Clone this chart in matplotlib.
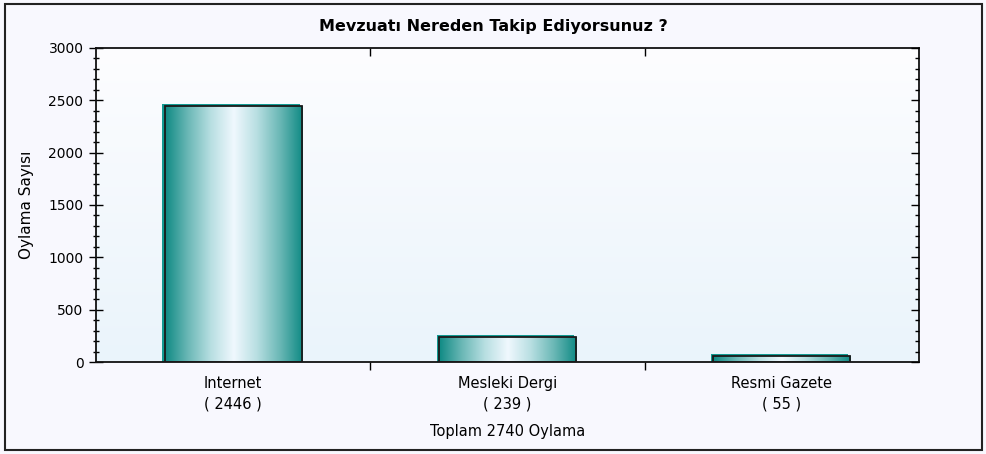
import numpy as np
import matplotlib
matplotlib.use('Agg')
import matplotlib.pyplot as plt
from matplotlib.colors import LinearSegmentedColormap
from matplotlib.patches import Rectangle
from matplotlib.ticker import MultipleLocator

categories = ['Internet', 'Mesleki Dergi', 'Resmi Gazete']
votes = [2446, 239, 55]
title = 'Mevzuatı Nereden Takip Ediyorsunuz ?'
ylabel = 'Oylama Sayısı'
xlabel = 'Toplam 2740 Oylama'

fig = plt.figure(figsize=(9.87, 4.54), dpi=100, facecolor='#f8f8fe')
ax = fig.add_axes([96 / 987, 92 / 454, 823 / 987, 314 / 454])

# figure border
fig.patches.append(Rectangle((5 / 987, 4 / 454), 977 / 987, 446 / 454,
                             transform=fig.transFigure, fill=False,
                             edgecolor='#222222', linewidth=1.5))

ax.set_xlim(-0.5, len(categories) - 0.5)
ax.set_ylim(0, 3000)

# plot area gradient: white at top, light blue at bottom
bg = LinearSegmentedColormap.from_list('bg', ['#eaf4fb', '#fdfdff'])
ax.imshow(np.linspace(0, 1, 256).reshape(-1, 1), cmap=bg, aspect='auto',
          extent=[-0.5, len(categories) - 0.5, 0, 3000], origin='lower', zorder=0)

bar_cmap = LinearSegmentedColormap.from_list(
    'bar', ['#0f8a84', '#6bb8b6', '#b8dfe2', '#f0f8fe', '#b8dfe2', '#6bb8b6', '#0f8a84'])
grad = np.linspace(0, 1, 256).reshape(1, -1)

bars = ax.bar(range(len(categories)), votes, width=0.5, facecolor='none',
              edgecolor='#1a1a1a', linewidth=1.3, zorder=3)
for b in bars:
    x0, w, h = b.get_x(), b.get_width(), b.get_height()
    # teal offset edge for the 3d look
    ax.add_patch(Rectangle((x0 - 0.008, 0), w, h + 18, facecolor='#129a92',
                           edgecolor='none', zorder=1))
    im = ax.imshow(grad, cmap=bar_cmap, aspect='auto',
                   extent=[x0, x0 + w, 0, h], zorder=2)
    im.set_clip_path(Rectangle((x0, 0), w, h, transform=ax.transData))

for s in ax.spines.values():
    s.set_linewidth(1.3)
    s.set_color('#111111')

ax.yaxis.set_major_locator(MultipleLocator(500))
ax.yaxis.set_minor_locator(MultipleLocator(100))
ax.tick_params(axis='y', which='major', direction='inout', length=10, width=1,
               labelsize=10, pad=4)
ax.tick_params(axis='y', which='minor', direction='inout', length=5, width=1)

# right side ticks point inward only
ax_r = ax.twinx()
ax_r.set_ylim(0, 3000)
ax_r.yaxis.set_major_locator(MultipleLocator(500))
ax_r.yaxis.set_minor_locator(MultipleLocator(100))
ax_r.tick_params(axis='y', which='major', direction='in', length=6, width=1, labelright=False)
ax_r.tick_params(axis='y', which='minor', direction='in', length=3, width=1)
for s in ax_r.spines.values():
    s.set_visible(False)

ax.set_xticks([0.5, 1.5])
ax.set_xticklabels(['', ''])
ax.tick_params(axis='x', which='major', direction='out', length=6, width=1, top=True)
for t in ax.xaxis.get_major_ticks():
    t.tick2line.set_marker(3)  # inward on top
    t.tick2line.set_markersize(6)

for i, (c, v) in enumerate(zip(categories, votes)):
    ax.text(i, -130, c + '\n( ' + str(v) + ' )', ha='center', va='top',
            fontsize=10.5, linespacing=1.45)

ax.text(1, -590, xlabel, ha='center', va='top', fontsize=10.5)
ax.set_ylabel(ylabel, fontsize=11, labelpad=10)
fig.text(493 / 987, 1 - 27 / 454, title, ha='center', va='center',
         fontsize=11.5, fontweight='bold')

fig.savefig('out.png', dpi=100, facecolor=fig.get_facecolor())
